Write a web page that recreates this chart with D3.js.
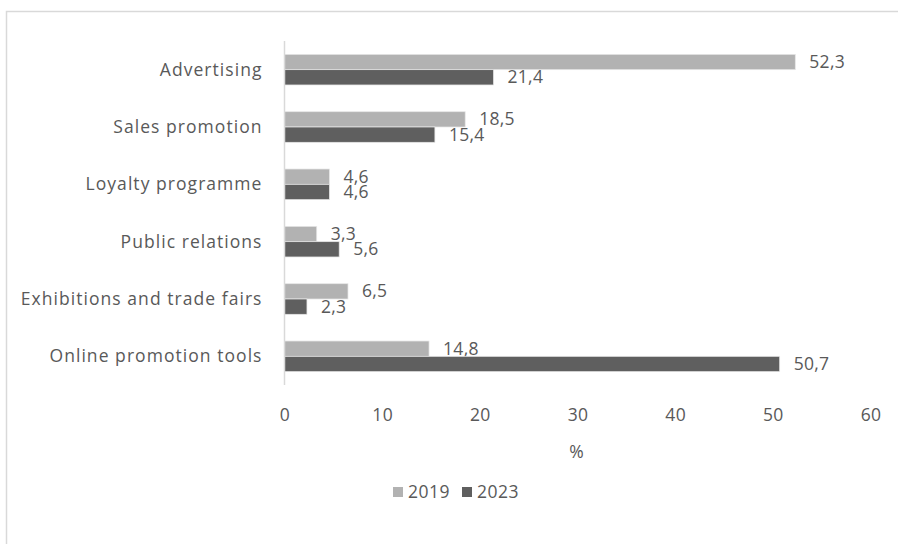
<!DOCTYPE html>
<html>
<head>
<meta charset="utf-8">
<script src="https://cdn.jsdelivr.net/npm/d3@7"></script>
<style>
  html, body { margin: 0; padding: 0; background: #fff; }
  svg { display: block; font-family: "Open Sans", Lato, sans-serif; }
</style>
</head>
<body>
<svg id="chart" width="898" height="544"></svg>
<script>
// Promotion tools used, share of respondents (%)
const categories = [
  "Advertising",
  "Sales promotion",
  "Loyalty programme",
  "Public relations",
  "Exhibitions and trade fairs",
  "Online promotion tools"
];
const values2019 = [52.3, 18.5, 4.6, 3.3, 6.5, 14.8];
const values2023 = [21.4, 15.4, 4.6, 5.6, 2.3, 50.7];
const seriesNames = ["2019", "2023"];
const seriesColors = ["#b2b2b2", "#5f5f5f"];
const xTicks = [0, 10, 20, 30, 40, 50, 60];
const xTitle = "%";

const svg = d3.select("#chart");
const textColor = "#595959";
const lineColor = "#d9d9d9";
const fontFamily = "'Open Sans', Lato, sans-serif";
const fontSize = 17.5;

// chart area border (open on the right and bottom edges)
svg.append("path")
  .attr("d", "M6.5,560 V11.5 H910")
  .attr("fill", "none")
  .attr("stroke", lineColor)
  .attr("stroke-width", 1.5);

const plot = { left: 284.5, right: 870.5, top: 41, bottom: 385 };

const x = d3.scaleLinear().domain([0, 60]).range([plot.left, plot.right]);
const y = d3.scaleBand().domain(categories)
  .range([plot.top, plot.bottom])
  .paddingInner(0.466).paddingOuter(0.233);
const ySeries = d3.scaleBand().domain(seriesNames).range([0, y.bandwidth()]);

const fmt = v => d3.format(".1f")(v).replace(".", ",");

// category labels
svg.append("g").selectAll("text")
  .data(categories)
  .join("text")
  .attr("x", plot.left - 22)
  .attr("y", d => y(d) + y.bandwidth() / 2)
  .attr("dy", "0.35em")
  .attr("text-anchor", "end")
  .attr("font-size", fontSize)
  .attr("letter-spacing", "1.05px")
  .attr("fill", textColor)
  .text(d => d);

// bars and their value labels
const series = [values2019, values2023];
series.forEach((vals, si) => {
  const g = svg.append("g");
  const rows = categories.map((c, i) => ({ c, v: vals[i] }));
  g.selectAll("rect")
    .data(rows)
    .join("rect")
    .attr("x", x(0))
    .attr("y", d => y(d.c) + ySeries(seriesNames[si]))
    .attr("width", d => x(d.v) - x(0))
    .attr("height", ySeries.bandwidth())
    .attr("fill", seriesColors[si])
    .attr("stroke", "#e6e6e6")
    .attr("stroke-width", 0.75);
  g.selectAll("text")
    .data(rows)
    .join("text")
    .attr("x", d => x(d.v) + 14)
    .attr("y", d => y(d.c) + ySeries(seriesNames[si]) + ySeries.bandwidth() / 2)
    .attr("dy", "0.35em")
    .attr("font-size", fontSize)
    .attr("letter-spacing", "0.3px")
    .attr("fill", textColor)
    .text(d => fmt(d.v));
});

// vertical category axis line
svg.append("line")
  .attr("x1", x(0)).attr("x2", x(0))
  .attr("y1", plot.top).attr("y2", plot.bottom)
  .attr("stroke", lineColor)
  .attr("stroke-width", 1.5);

// value axis tick labels
const xAxis = d3.axisBottom(x).tickValues(xTicks).tickSize(0).tickPadding(0);
const ax = svg.append("g").attr("transform", `translate(0, 415)`).call(xAxis);
ax.select(".domain").remove();
ax.selectAll("text")
  .attr("y", 0)
  .attr("dy", "0.35em")
  .attr("font-size", fontSize)
  .attr("font-family", fontFamily)
  .attr("letter-spacing", "0.3px")
  .attr("fill", textColor);

// axis title
svg.append("text")
  .attr("x", (plot.left + plot.right) / 2 - 1)
  .attr("y", 452)
  .attr("dy", "0.35em")
  .attr("text-anchor", "middle")
  .attr("font-size", fontSize)
  .attr("fill", textColor)
  .text(xTitle);

// legend
const legend = svg.append("g").attr("transform", "translate(393, 492)");
const legendX = [0, 69];
seriesNames.forEach((name, i) => {
  legend.append("rect")
    .attr("x", legendX[i]).attr("y", -5)
    .attr("width", 10).attr("height", 10)
    .attr("fill", seriesColors[i]);
  legend.append("text")
    .attr("x", legendX[i] + 15).attr("y", 0)
    .attr("dy", "0.35em")
    .attr("font-size", fontSize)
    .attr("letter-spacing", "0.5px")
    .attr("fill", textColor)
    .text(name);
});
</script>
</body>
</html>
